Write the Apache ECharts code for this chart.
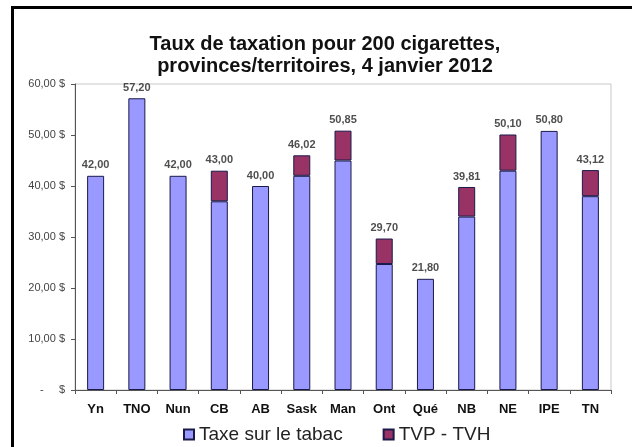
<!DOCTYPE html>
<html>
<head>
<meta charset="utf-8">
<script src="https://cdn.jsdelivr.net/npm/echarts@6/dist/echarts.min.js"></script>
<style>
  html, body { margin: 0; padding: 0; background: #fff; }
  #frame {
    position: absolute; left: 11px; top: 6px; width: 619px; height: 441px;
    border-left: 3px solid #000; border-top: 3px solid #000; border-right: 1px solid #ccc;
  }
  #main { position: absolute; left: 0; top: 0; width: 632px; height: 447px; }
</style>
</head>
<body>
<div id="frame"></div>
<div id="main"></div>
<script>
var categories = ['Yn', 'TNO', 'Nun', 'CB', 'AB', 'Sask', 'Man', 'Ont', 'Qué', 'NB', 'NE', 'IPE', 'TN'];
var tobaccoTax = [42.00, 57.20, 42.00, 37.00, 40.00, 42.00, 45.00, 24.70, 21.80, 34.00, 43.00, 50.80, 38.00];
var salesTax   = [0, 0, 0, 6.00, 0, 4.02, 5.85, 5.00, 0, 5.81, 7.10, 0, 5.12];
var totals     = [42.00, 57.20, 42.00, 43.00, 40.00, 46.02, 50.85, 29.70, 21.80, 39.81, 50.10, 50.80, 43.12];
var yTicks = [0, 10, 20, 30, 40, 50, 60];

function fmt(v) {
  return v.toFixed(2).replace('.', ',');
}

var chart = echarts.init(document.getElementById('main'));
var option = {
  animation: false,
  title: {
    text: 'Taux de taxation pour 200 cigarettes,\nprovinces/territoires, 4 janvier 2012',
    left: 320,
    top: 28,
    textAlign: 'center',
    textStyle: {
      fontFamily: 'Liberation Sans',
      fontSize: 20,
      fontWeight: 'bold',
      color: '#111',
      lineHeight: 22
    }
  },
  grid: {
    left: 75,
    right: 21,
    top: 84,
    bottom: 57,
    show: true,
    borderColor: '#c8c8c8',
    borderWidth: 1
  },
  legend: {
    data: ['Taxe sur le tabac', 'TVP - TVH'],
    left: 178,
    top: 420,
    itemGap: 40,
    itemWidth: 10,
    itemHeight: 10,
    icon: 'rect',
    textStyle: {
      fontFamily: 'Liberation Sans',
      fontSize: 19,
      color: '#222'
    }
  },
  xAxis: {
    type: 'category',
    data: categories,
    axisLine: { lineStyle: { color: '#555', width: 1 } },
    axisTick: { show: true, alignWithLabel: false, length: 4, lineStyle: { color: '#555' } },
    axisLabel: {
      fontFamily: 'Liberation Sans',
      fontSize: 13,
      fontWeight: 'bold',
      color: '#111',
      margin: 13
    }
  },
  yAxis: {
    type: 'value',
    min: yTicks[0],
    max: yTicks[yTicks.length - 1],
    interval: 10,
    axisLine: { show: true, lineStyle: { color: '#555', width: 1 } },
    axisTick: { show: true, length: 4, lineStyle: { color: '#555' } },
    splitLine: { show: false },
    axisLabel: {
      fontFamily: 'Liberation Sans',
      fontSize: 11,
      color: '#444',
      margin: 10,
      formatter: function (v) {
        return v === 0 ? '-     $' : fmt(v) + ' $';
      }
    }
  },
  series: [
    {
      name: 'Taxe sur le tabac',
      type: 'bar',
      stack: 'tot',
      barWidth: 17,
      data: tobaccoTax,
      itemStyle: { color: '#9999ff', borderColor: '#1a1a4a', borderWidth: 1 }
    },
    {
      name: 'TVP - TVH',
      type: 'bar',
      stack: 'tot',
      barWidth: 17,
      data: salesTax.map(function (v) { return v === 0 ? '-' : v; }),
      itemStyle: { color: '#993366', borderColor: '#1a1a4a', borderWidth: 1 }
    },
    {
      name: 'total',
      type: 'scatter',
      symbolSize: 0,
      data: totals,
      silent: true,
      label: {
        show: true,
        position: 'top',
        distance: 5,
        fontFamily: 'Liberation Sans',
        fontSize: 11,
        fontWeight: 'bold',
        color: '#222',
        formatter: function (p) { return fmt(p.value); }
      }
    }
  ]
};
chart.setOption(option);
</script>
</body>
</html>
